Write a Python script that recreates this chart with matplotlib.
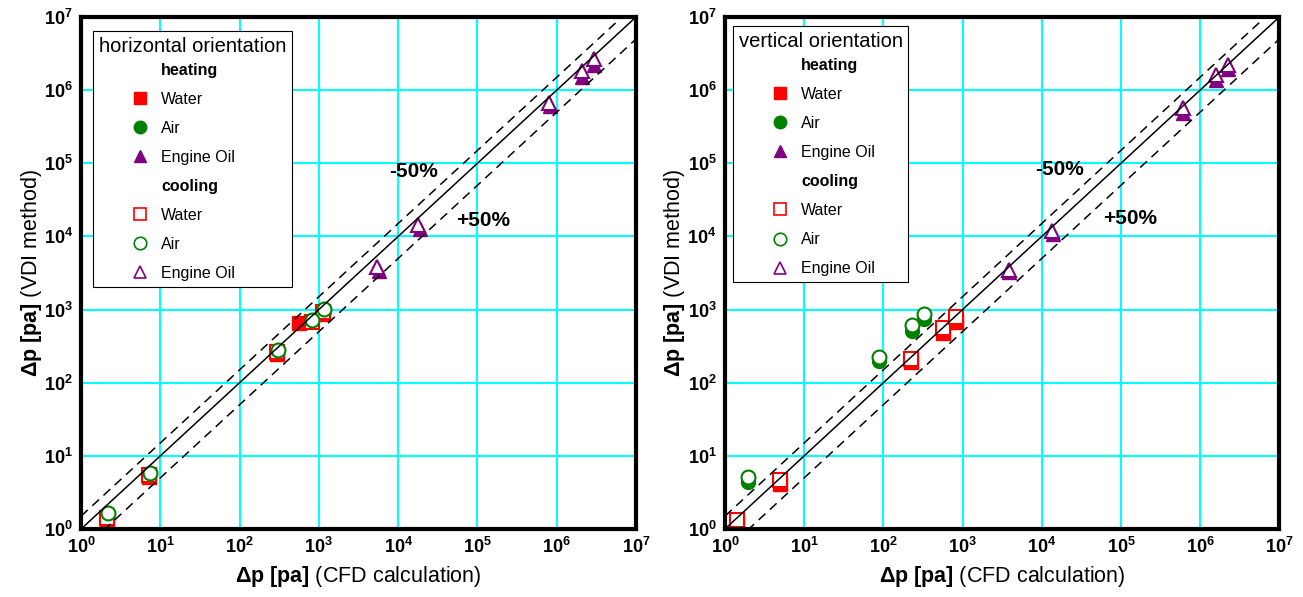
import numpy as np
import matplotlib
matplotlib.use("Agg")
import matplotlib.pyplot as plt
from matplotlib.lines import Line2D
from matplotlib.ticker import FuncFormatter, LogLocator, NullLocator

plt.rcParams['font.family'] = ['Liberation Sans', 'DejaVu Sans']
plt.rcParams['mathtext.fontset'] = 'custom'
plt.rcParams['mathtext.rm'] = 'Liberation Sans'
plt.rcParams['mathtext.bf'] = 'Liberation Sans:bold'
plt.rcParams['mathtext.it'] = 'Liberation Sans:italic'

# horizontal orientation
hor_heat_water_x = [2.1, 7.3, 300, 566, 1117]
hor_heat_water_y = [1.3, 5.1, 250, 651, 880]
hor_cool_water_x = [2.1, 7.3, 299, 811, 1117]
hor_cool_water_y = [1.4, 5.5, 266, 685, 939]
hor_heat_air_x = [2.1, 7.3, 300, 811, 1150]
hor_heat_air_y = [1.5, 5.6, 260, 690, 960]
hor_cool_air_x = [2.2, 7.4, 304, 811, 1170]
hor_cool_air_y = [1.65, 5.9, 281, 723, 1012]
hor_heat_oil_x = [5780, 18800, 8.2e5, 2.1e6, 2.97e6]
hor_heat_oil_y = [3420, 12700, 5.98e5, 1.51e6, 2.22e6]
hor_cool_oil_x = [5360, 17900, 7.97e5, 2.1e6, 2.97e6]
hor_cool_oil_y = [3800, 14400, 6.66e5, 1.8e6, 2.66e6]

# vertical orientation
ver_heat_water_x = [1.43, 4.95, 221, 570, 818]
ver_heat_water_y = [1.25, 4.1, 195, 484, 673]
ver_cool_water_x = [1.43, 4.95, 221, 570, 818]
ver_cool_water_y = [1.33, 4.68, 210, 557, 787]
ver_heat_air_x = [1.93, 88, 232, 326]
ver_heat_air_y = [4.35, 199, 511, 739]
ver_cool_air_x = [1.93, 88, 232, 326]
ver_cool_air_y = [5.2, 228, 618, 865]
ver_heat_oil_x = [3890, 13700, 6.0e5, 1.58e6, 2.26e6]
ver_heat_oil_y = [3300, 10900, 4.86e5, 1.36e6, 1.94e6]
ver_cool_oil_x = [3890, 13600, 6.0e5, 1.58e6, 2.26e6]
ver_cool_oil_y = [3490, 12000, 5.69e5, 1.62e6, 2.22e6]

RED = '#FF0000'
GREEN = '#008000'
PURPLE = '#800080'

fig = plt.figure(figsize=(13.03, 5.97), dpi=100)
ax1 = fig.add_axes([0.0622, 0.1139, 0.4259, 0.8576])
ax2 = fig.add_axes([0.5564, 0.1139, 0.4254, 0.8576])


def setup(ax):
    ax.set_xscale('log')
    ax.set_yscale('log')
    ax.set_xlim(1, 1e7)
    ax.set_ylim(1, 1e7)
    ax.xaxis.set_major_locator(LogLocator(base=10, numticks=10))
    ax.yaxis.set_major_locator(LogLocator(base=10, numticks=10))
    ax.xaxis.set_minor_locator(NullLocator())
    ax.yaxis.set_minor_locator(NullLocator())
    fmt = FuncFormatter(lambda v, p: r'$\mathbf{10^{%d}}$' % int(round(np.log10(v))))
    ax.xaxis.set_major_formatter(fmt)
    ax.yaxis.set_major_formatter(fmt)
    ax.tick_params(length=0, labelsize=13, pad=6)
    ax.grid(True, color='#00FFFF', lw=1.5)
    ax.set_axisbelow(True)
    for s in ax.spines.values():
        s.set_linewidth(3)
        s.set_zorder(7)
    line = np.array([1, 1e7])
    ax.plot(line, line, color='black', lw=1.1, zorder=5)
    ax.plot(line, 1.5 * line, color='black', lw=1.1, ls=(0, (6, 4)), zorder=5)
    ax.plot(line, 0.5 * line, color='black', lw=1.1, ls=(0, (6, 4)), zorder=5)
    ax.set_xlabel(r'$\mathbf{\Delta p\ [pa]}$ (CFD calculation)', fontsize=15.5, labelpad=5)
    ax.set_ylabel(r'$\mathbf{\Delta p\ [pa]}$ (VDI method)', fontsize=15.5, labelpad=0)


def draw(ax, series):
    ms = 10
    (hwx, hwy), (hax, hay), (hox, hoy), (cwx, cwy), (cax, cay), (cox, coy) = series
    ax.plot(hwx, hwy, 's', color=RED, ms=ms, zorder=3)
    ax.plot(hax, hay, 'o', color=GREEN, ms=ms, zorder=3)
    ax.plot(hox, hoy, '^', color=PURPLE, ms=ms, zorder=3)
    ax.plot(cwx, cwy, 's', mec=RED, mfc='white', mew=1.5, ms=ms, zorder=4)
    ax.plot(cax, cay, 'o', mec=GREEN, mfc='white', mew=1.5, ms=ms, zorder=4)
    ax.plot(cox, coy, '^', mec=PURPLE, mfc='white', mew=1.5, ms=ms, zorder=4)


def legend(ax, title, anchor):
    blank = Line2D([], [], ls='none', marker='none')
    hs = [blank,
          Line2D([], [], ls='none', marker='s', color=RED, ms=9),
          Line2D([], [], ls='none', marker='o', color=GREEN, ms=9),
          Line2D([], [], ls='none', marker='^', color=PURPLE, ms=9),
          blank,
          Line2D([], [], ls='none', marker='s', mec=RED, mfc='white', mew=1.2, ms=9),
          Line2D([], [], ls='none', marker='o', mec=GREEN, mfc='white', mew=1.2, ms=9),
          Line2D([], [], ls='none', marker='^', mec=PURPLE, mfc='white', mew=1.2, ms=9)]
    labels = ['heating', 'Water', 'Air', 'Engine Oil',
              'cooling', 'Water', 'Air', 'Engine Oil']
    leg = ax.legend(hs, labels, title=title, loc='upper left', bbox_to_anchor=anchor,
                    fontsize=11.5, title_fontsize=14.5, alignment='left',
                    frameon=True, fancybox=False, framealpha=1, edgecolor='black',
                    numpoints=1, handlelength=5.2, handletextpad=-1.3, labelspacing=0.88,
                    borderpad=0.35, borderaxespad=0)
    leg.get_frame().set_linewidth(0.8)
    leg.set_zorder(8)
    for t in leg.get_texts():
        if t.get_text() in ('heating', 'cooling'):
            t.set_fontweight('bold')
    leg._legend_box.sep = 5
    return leg


draw(ax1, [(hor_heat_water_x, hor_heat_water_y), (hor_heat_air_x, hor_heat_air_y),
           (hor_heat_oil_x, hor_heat_oil_y), (hor_cool_water_x, hor_cool_water_y),
           (hor_cool_air_x, hor_cool_air_y), (hor_cool_oil_x, hor_cool_oil_y)])
draw(ax2, [(ver_heat_water_x, ver_heat_water_y), (ver_heat_air_x, ver_heat_air_y),
           (ver_heat_oil_x, ver_heat_oil_y), (ver_cool_water_x, ver_cool_water_y),
           (ver_cool_air_x, ver_cool_air_y), (ver_cool_oil_x, ver_cool_oil_y)])

for ax in (ax1, ax2):
    setup(ax)

legend(ax1, 'horizontal orientation', (0.0216, 0.9727))
legend(ax2, 'vertical orientation', (0.015, 0.982))

ax1.text(15400, 76500, '-50%', fontsize=15, fontweight='bold', ha='center', va='center')
ax1.text(1.17e5, 16300, '+50%', fontsize=15, fontweight='bold', ha='center', va='center')
ax2.text(17000, 81500, '-50%', fontsize=15, fontweight='bold', ha='center', va='center')
ax2.text(1.3e5, 17400, '+50%', fontsize=15, fontweight='bold', ha='center', va='center')

fig.savefig('out.png', dpi=100, facecolor='white')
